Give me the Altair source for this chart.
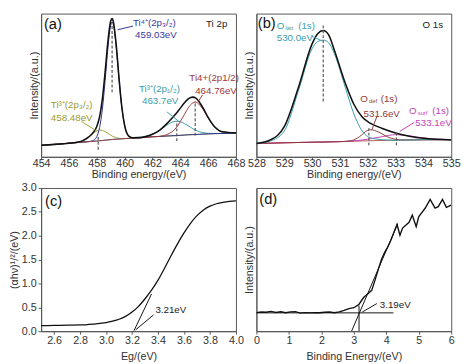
import altair as alt
import pandas as pd

FONT = "Liberation Sans Narrow, Arial Narrow, Liberation Sans, Arial, sans-serif"
W, H = 200, 147

# ---------------- (a) Ti 2p ----------------
a_x = [454, 455, 456, 456.5, 457, 457.4, 457.7, 458, 458.2, 458.4, 458.6, 458.8, 459, 459.1, 459.2,
       459.4, 459.6, 459.8, 460, 460.3, 460.6, 461, 461.5, 462, 462.5, 463, 463.4, 463.7, 464, 464.3,
       464.6, 464.9, 465.1, 465.4, 465.7, 466, 466.5, 467, 468]
a_envelope = [8, 8.7, 9.5, 10.0, 11.3, 13.7, 16.5, 21.2, 27.9, 40.3, 59.3, 80.7, 94.9, 96.5, 93.9,
              77.6, 54.6, 34.6, 22.0, 14.5, 13.3, 13.4, 14.1, 15.7, 18.4, 22.8, 26.9, 30.2, 34.0, 37.7,
              40.7, 41.7, 41.1, 37.8, 33.0, 27.5, 20.6, 17.5, 16.7]
a_ti4_32 = [8, 8.7, 9.5, 9.9, 10.3, 10.6, 11.2, 14.1, 20.4, 33.2, 53.3, 76.1, 91.8, 94.1, 92.0,
            76.6, 54.1, 34.4, 21.9, 14.5, 13.3, 13.3, 13.6, 14, 14.2, 14.5, 14.7, 14.8, 15, 15.2,
            15.4, 15.5, 15.6, 15.7, 15.9, 16, 16.2, 16.3, 16.7]
a_ti3_32 = [8, 8.7, 9.5, 10.0, 11.3, 13.7, 16.1, 18.1, 18.7, 18.5, 17.6, 16.4, 15.1, 14.5, 14.1,
            13.3, 12.9, 12.8, 12.8, 12.9, 13.1, 13.3, 13.6, 14, 14.2, 14.5, 14.7, 14.8, 15, 15.2,
            15.4, 15.5, 15.6, 15.7, 15.9, 16, 16.2, 16.3, 16.7]
a_ti3_12 = [8, 8.7, 9.5, 9.9, 10.3, 10.6, 10.8, 11, 11.2, 11.4, 11.6, 11.8, 12, 12.1, 12.2,
            12.3, 12.4, 12.6, 12.7, 12.9, 13.1, 13.4, 14.1, 15.7, 18.3, 21.9, 24.2, 24.8, 24.5, 23.2,
            21.5, 19.6, 18.6, 17.4, 16.75, 16.4, 16.3, 16.3, 16.7]
a_ti4_12 = [8, 8.7, 9.5, 9.9, 10.3, 10.6, 10.8, 11, 11.2, 11.4, 11.6, 11.8, 12, 12.1, 12.2,
            12.3, 12.4, 12.6, 12.7, 12.9, 13.1, 13.3, 13.6, 14, 14.3, 15.35, 17.4, 20.2, 24.5, 29.7,
            34.6, 37.6, 38.1, 36.1, 32.1, 27.1, 20.5, 17.45, 16.7]
a_ticks = [454, 456, 458, 460, 462, 464, 466, 468]
a_dashes = [(459.1, 45, 459.1, 93), (458.1, 5, 458.1, 15), (463.75, 11, 463.75, 25), (465.07, 14.7, 465.07, 39)]
a_leaders_navy = [(460.6, 91.3, 459.5, 88.7)]
a_leaders_red = [(465.6, 43.3, 465.3, 38.7)]
a_leaders_teal = [(463.05, 31.3, 463.9, 24.7)]
a_leaders_olive = [(456.9, 24.7, 458.0, 18.0)]

# ---------------- (b) O 1s ----------------
b_env_x = [528, 528.5, 529, 529.5, 530, 530.2, 530.4, 530.6, 530.8, 531.2, 531.5, 531.8, 532.1, 532.5, 533, 533.5, 534, 535]
b_env_y = [9.3, 11.8, 21, 47.8, 78.9, 86, 88.2, 85, 74.4, 51, 36.7, 27.8, 23.3, 20, 16.7, 14.4, 12.9, 11.8]
b_latt_x = [528, 528.5, 529, 529.5, 530, 530.2, 530.4, 530.6, 530.8, 531.2, 531.5, 531.8, 532.1, 532.5, 533, 534, 535]
b_latt_y = [9.3, 11, 18, 45.5, 75.5, 80.5, 81.5, 79.5, 72, 48, 30, 18, 13.3, 12, 11.6, 11.9, 12]
b_base_x = [528, 529, 530, 531, 532, 533, 534, 535]
b_base_y = [9.3, 9.8, 10.2, 10.6, 11.2, 11.6, 11.9, 12]
b_def_x = [528, 529, 530, 531, 531.4, 531.7, 532.0, 532.1, 532.4, 532.7, 533.0, 533.3, 534, 535]
b_def_y = [9.3, 9.8, 10.2, 10.6, 11.2, 14, 18.5, 18.9, 17.2, 14, 12.2, 11.8, 11.9, 12]
b_surf_x = [528, 529, 530, 531, 531.5, 532, 532.5, 533, 533.5, 534, 534.5, 535]
b_surf_y = [9.3, 9.8, 10.2, 10.6, 11.1, 12.3, 14.0, 15.5, 14.6, 13.2, 12.4, 12]
b_ticks = [528, 529, 530, 531, 532, 533, 534, 535]
b_dashes = [(530.4, 38.7, 530.4, 93), (532.04, 8, 532.04, 20), (533.03, 8, 533.03, 18)]
b_leaders_teal = [(529.97, 84.4, 530.34, 81.1)]
b_leaders_brown = [(532.32, 27.8, 532.15, 18.9)]
b_leaders_mag = [(533.67, 24.0, 533.15, 17.8)]

# ---------------- (c) Tauc ----------------
c_x = [2.5, 2.6, 2.7, 2.8, 2.9, 3.0, 3.05, 3.1, 3.15, 3.2, 3.25, 3.3, 3.35, 3.4, 3.45, 3.5,
       3.55, 3.6, 3.65, 3.7, 3.75, 3.8, 3.85, 3.9, 3.95, 4.0]
c_y = [0.115, 0.12, 0.125, 0.13, 0.15, 0.18, 0.21, 0.25, 0.31, 0.40, 0.52, 0.68, 0.86, 1.07, 1.32, 1.58,
       1.83, 2.06, 2.26, 2.42, 2.54, 2.62, 2.67, 2.70, 2.72, 2.73]
c_xticks = [2.6, 2.8, 3.0, 3.2, 3.4, 3.6, 3.8, 4.0]
c_yticks = [0.0, 0.5, 1.0, 1.5, 2.0, 2.5, 3.0]
c_lines = [(3.215, 0.01, 3.35, 0.78), (3.365, 0.34, 3.228, 0.03)]

# ---------------- (d) VB ----------------
d_x = [0, 0.15, 0.3, 0.45, 0.6, 0.75, 0.9, 1.05, 1.2, 1.35, 1.5, 1.65, 1.8, 1.95, 2.1, 2.25, 2.4,
       2.55, 2.7, 2.85, 3.0, 3.15, 3.3, 3.45, 3.55, 3.65, 3.75, 3.85, 3.95, 4.05, 4.15, 4.25, 4.33,
       4.42, 4.5, 4.6, 4.7, 4.8, 4.92, 5.0, 5.1, 5.2, 5.35, 5.5, 5.6, 5.73, 5.85, 6.0]
d_y = [13, 13.4, 13.2, 13.8, 13.1, 13.6, 12.9, 13.5, 13.7, 12.6, 13.0, 12.8, 13.0, 12.9, 13.2, 13.4, 12.9,
       13.5, 14.5, 15.8, 16.4, 18.5, 23.5, 26.5, 28.5, 35.5, 43, 50, 55, 59, 64, 70, 74.5,
       67, 72, 74, 76, 81, 73, 80, 83, 86, 92, 86, 87, 92, 86.5, 88]
d_xticks = [0, 1, 2, 3, 4, 5, 6]
d_lines = [(0, 12.8, 4.22, 12.8), (3.16, 0, 3.16, 17.7), (2.93, 0, 4.35, 75), (3.71, 19.3, 3.26, 13.4)]


def make_enc(xdom, ydom, xtitle, ytitle, xticks, xfmt, lpad, tpad, yticks=None, yfmt=".1f"):
    xax = alt.Axis(title=xtitle, values=xticks, format=xfmt, labelFlush=False, labelOverlap=False,
                   labelPadding=lpad, titlePadding=tpad)
    if yticks is None:
        yax = alt.Axis(title=ytitle, labels=False, ticks=False)
    else:
        yax = alt.Axis(title=ytitle, values=yticks, format=yfmt, labelFlush=False, labelOverlap=False)

    def X():
        return alt.X("x:Q", scale=alt.Scale(domain=xdom, nice=False, zero=False), axis=xax)

    def Y():
        return alt.Y("y:Q", scale=alt.Scale(domain=ydom, nice=False, zero=False), axis=yax)
    return X, Y


def curve(X, Y, xs, ys, color, width=1.0, interp="monotone"):
    df = pd.DataFrame({"x": xs, "y": ys})
    return alt.Chart(df).mark_line(color=color, strokeWidth=width, interpolate=interp, clip=True).encode(x=X(), y=Y())


def segs(X, Y, rows, color, width=1.0, dash=None):
    df = pd.DataFrame(rows, columns=["x", "y", "x2", "y2"])
    kw = dict(color=color, strokeWidth=width, clip=True)
    if dash:
        kw["strokeDash"] = dash
    return alt.Chart(df).mark_rule(**kw).encode(x=X(), y=Y(), x2="x2:Q", y2="y2:Q")


def label(X, Y, x, y, text, color, size=10, dx=0, dy=0):
    df = pd.DataFrame({"x": [x], "y": [y]})
    return alt.Chart(df).mark_text(text=text, color=color, fontSize=size, align="left", baseline="middle",
                                   dx=dx, dy=dy, font=FONT).encode(x=X(), y=Y())


NAVY, OLIVE, TEAL, RED = "#2f2f8c", "#a2a238", "#3b9eab", "#9e3838"
BROWN, MAG = "#8c3a3a", "#c43fb4"
DASH = "#555555"

# panel a
X, Y = make_enc([454, 468], [0, 100], "Binding energy/(eV)", "Intensity/(a.u.)", a_ticks, "d", -2, 0)
A = alt.layer(
    curve(X, Y, a_x, a_ti3_32, OLIVE),
    curve(X, Y, a_x, a_ti3_12, TEAL),
    curve(X, Y, a_x, a_ti4_32, NAVY),
    curve(X, Y, a_x, a_ti4_12, RED),
    curve(X, Y, a_x, a_envelope, "#111111", 1.6),
    segs(X, Y, a_dashes, DASH, 1.2, [3, 2]),
    segs(X, Y, a_leaders_navy, NAVY),
    segs(X, Y, a_leaders_red, RED),
    segs(X, Y, a_leaders_teal, TEAL),
    segs(X, Y, a_leaders_olive, OLIVE),
    label(X, Y, 454.2, 92.7, "(a)", "#111", 15),
    label(X, Y, 460.6, 93.3, "Ti⁴⁺(2p₃/₂)", "#3a3a9e"),
    label(X, Y, 460.75, 84.7, "459.03eV", "#3a3a9e"),
    label(X, Y, 465.85, 92.7, "Ti 2p", "#222"),
    label(X, Y, 464.65, 55.3, "Ti4+(2p1/2)", RED),
    label(X, Y, 465.07, 46, "464.76eV", RED),
    label(X, Y, 461.03, 47.3, "Ti³⁺(2p₁/₂)", TEAL),
    label(X, Y, 461.25, 38.7, "463.7eV", TEAL),
    label(X, Y, 454.7, 36, "Ti³⁺(2p₃/₂)", "#9a9a30"),
    label(X, Y, 454.7, 27.3, "458.48eV", "#9a9a30"),
).properties(width=W, height=H)

# panel b
X, Y = make_enc([528, 535], [0, 100], "Binding energy/(eV)", "Intensity/(a.u.)", b_ticks, "d", -2, 0)
B = alt.layer(
    curve(X, Y, b_base_x, b_base_y, "#b85a5a"),
    curve(X, Y, b_surf_x, b_surf_y, MAG),
    curve(X, Y, b_def_x, b_def_y, BROWN),
    curve(X, Y, b_latt_x, b_latt_y, TEAL),
    curve(X, Y, b_env_x, b_env_y, "#111111", 1.6),
    segs(X, Y, b_dashes, DASH, 1.2, [3, 2]),
    segs(X, Y, b_leaders_teal, TEAL),
    segs(X, Y, b_leaders_brown, BROWN),
    segs(X, Y, b_leaders_mag, MAG),
    label(X, Y, 528.05, 93.3, "(b)", "#111", 15),
    label(X, Y, 528.73, 91.5, "O", TEAL),
    label(X, Y, 528.73, 91.5, "latt", TEAL, 6, 9, 2),
    label(X, Y, 528.73, 91.5, "(1s)", TEAL, 10, 22),
    label(X, Y, 528.73, 82.8, "530.0eV", TEAL),
    label(X, Y, 531.73, 40.4, "O", BROWN),
    label(X, Y, 531.73, 40.4, "def", BROWN, 6, 9, 2),
    label(X, Y, 531.73, 40.4, "(1s)", BROWN, 10, 21),
    label(X, Y, 531.85, 30, "531.6eV", BROWN),
    label(X, Y, 533.48, 32, "O", MAG),
    label(X, Y, 533.48, 32, "surf", MAG, 6, 9, 2),
    label(X, Y, 533.48, 32, "(1s)", MAG, 10, 24),
    label(X, Y, 533.71, 23.8, "533.1eV", MAG),
    label(X, Y, 533.97, 92.2, "O 1s", "#222"),
).properties(width=W, height=H)

# panel c
X, Y = make_enc([2.5, 4.0], [0, 3.0], "Eg/(eV)", "(αhν)¹/²/(eV)", c_xticks, ".1f", 1, 5, c_yticks, ".1f")
C = alt.layer(
    curve(X, Y, c_x, c_y, "#111111", 1.3),
    segs(X, Y, c_lines, "#111111", 1.0),
    label(X, Y, 2.53, 2.73, "(c)", "#111", 15),
    label(X, Y, 3.38, 0.44, "3.21eV", "#222"),
).properties(width=W, height=H)

# panel d
X, Y = make_enc([0, 6], [0, 100], "Binding Energy/(eV)", "Intensity/(a.u.)", d_xticks, "d", 1, 5)
D = alt.layer(
    curve(X, Y, d_x, d_y, "#111111", 1.4, "linear"),
    segs(X, Y, d_lines, "#111111", 1.0),
    label(X, Y, 0.09, 92.5, "(d)", "#111", 15),
    label(X, Y, 3.8, 17.9, "3.19eV", "#222"),
).properties(width=W, height=H)

chart = alt.concat(
    A, B, C, D, columns=2, spacing={"row": 32, "column": 21}, bounds="flush"
).properties(
    padding={"left": 0, "top": 0, "right": 0, "bottom": 0}
).configure_view(
    stroke="#555555", strokeWidth=1
).configure_axis(
    labelFont=FONT, titleFont=FONT, labelFontSize=11, titleFontSize=11,
    labelColor="#333333", titleColor="#333333", titleFontWeight="normal",
    domainColor="#555555", tickColor="#555555", tickSize=3, grid=False,
    labelPadding=2, titlePadding=2,
)

chart.save("out.html", embed_options={"renderer": "svg", "actions": False})
